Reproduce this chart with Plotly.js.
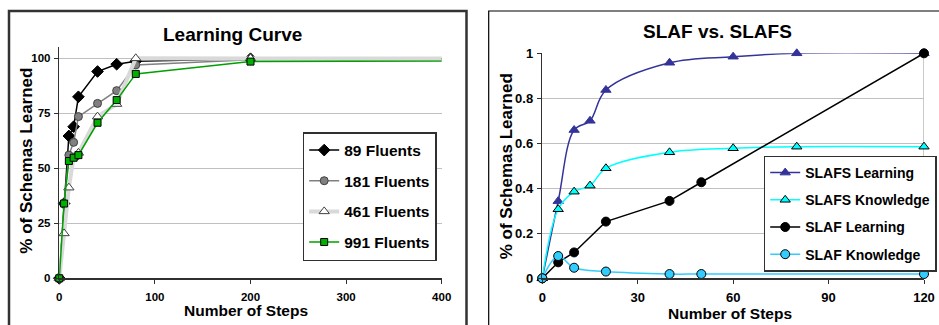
<!DOCTYPE html>
<html>
<head>
<meta charset="utf-8">
<script src="https://cdn.plot.ly/plotly-3.0.1.min.js"></script>
<style>html,body{margin:0;padding:0;background:#fff;}#chart{width:939px;height:325px;}</style>
</head>
<body>
<div id="chart"></div>
<script>
// ---------- Left chart: Learning Curve ----------
const steps = [0, 5, 10, 15, 20, 40, 60, 80, 200, 1000];
const fluents89  = [0, 34, 64.7, 68.9, 82.5, 94.0, 97.3, 98.7, 99.8, 99.6];
const fluents181 = [0, 34, 56.0, 61.8, 73.5, 79.5, 85.3, 97.0, 99.3, 99.6];
const fluents461 = [0, 20.4, 41.2, 55.0, 57.0, 73.5, 79.2, 100.0, 100.0, 99.6];
const fluents991 = [0, 34, 53.3, 54.8, 56.0, 70.7, 81.0, 92.9, 98.5, 99.6];
const leftNames = ['89 Fluents', '181 Fluents', '461 Fluents', '991 Fluents'];
const leftXTicks = [0, 100, 200, 300, 400];
const leftYTicks = [0, 25, 50, 75, 100];

// ---------- Right chart: SLAF vs. SLAFS ----------
const slafsSteps = [0, 5, 10, 15, 20, 40, 60, 80, 120];
const slafsLearning  = [0, 0.343, 0.659, 0.700, 0.837, 0.958, 0.985, 1.0, 1.0];
const slafsKnowledge = [0, 0.307, 0.385, 0.412, 0.489, 0.560, 0.578, 0.585, 0.585];
const slafSteps = [0, 5, 10, 20, 40, 50, 120];
const slafLearning  = [0, 0.071, 0.115, 0.252, 0.344, 0.427, 1.0];
const slafKnowledge = [0, 0.099, 0.047, 0.030, 0.019, 0.019, 0.019];
const rightNames = ['SLAFS Learning', 'SLAFS Knowledge', 'SLAF Learning', 'SLAF Knowledge'];
const rightXTicks = [0, 30, 60, 90, 120];
const rightYTicks = [0, 0.2, 0.4, 0.6, 0.8, 1];

const FONT = 'Liberation Sans, Arial, Helvetica, sans-serif';
const W = 939, H = 325;
const px = v => v / W;
const py = v => 1 - v / H;

const traces = [
  {x: steps, y: fluents89, name: leftNames[0], mode: 'lines+markers', xaxis: 'x', yaxis: 'y',
   line: {color: '#000000', width: 1.5},
   marker: {symbol: 'diamond', size: 9, color: '#000000', line: {color: '#000000', width: 1}},
   cliponaxis: false, legend: 'legend', legendgroup: 'a'},
  {x: steps, y: fluents181, name: leftNames[1], mode: 'lines+markers', xaxis: 'x', yaxis: 'y',
   line: {color: '#808080', width: 1.5},
   marker: {symbol: 'circle', size: 8, color: '#808080', line: {color: '#404040', width: 1}},
   cliponaxis: false, legend: 'legend', legendgroup: 'b'},
  {x: steps, y: fluents461, name: leftNames[2], mode: 'lines+markers', xaxis: 'x', yaxis: 'y',
   line: {color: '#d9d9d9', width: 4},
   marker: {symbol: 'triangle-up', size: 9, color: '#ffffff', line: {color: '#404040', width: 1}},
   cliponaxis: false, legend: 'legend', legendgroup: 'c'},
  {x: steps, y: fluents991, name: leftNames[3], mode: 'lines+markers', xaxis: 'x', yaxis: 'y',
   line: {color: '#00a000', width: 1.5},
   marker: {symbol: 'square', size: 7, color: '#00b000', line: {color: '#000000', width: 1}},
   cliponaxis: false, legend: 'legend', legendgroup: 'd'},

  {x: slafsSteps, y: slafsLearning, name: rightNames[0], mode: 'lines+markers', xaxis: 'x2', yaxis: 'y2',
   line: {color: '#333399', width: 1.5, shape: 'spline'},
   marker: {symbol: 'triangle-up', size: 9, color: '#333399', line: {color: '#333399', width: 1}},
   cliponaxis: false, legend: 'legend2', legendgroup: 'e'},
  {x: slafsSteps, y: slafsKnowledge, name: rightNames[1], mode: 'lines+markers', xaxis: 'x2', yaxis: 'y2',
   line: {color: '#00ffff', width: 1.5, shape: 'spline'},
   marker: {symbol: 'triangle-up', size: 9, color: '#00ffff', line: {color: '#000000', width: 1}},
   cliponaxis: false, legend: 'legend2', legendgroup: 'f'},
  {x: slafSteps, y: slafLearning, name: rightNames[2], mode: 'lines+markers', xaxis: 'x2', yaxis: 'y2',
   line: {color: '#000000', width: 1.5},
   marker: {symbol: 'circle', size: 9, color: '#000000', line: {color: '#000000', width: 1}},
   cliponaxis: false, legend: 'legend2', legendgroup: 'g'},
  {x: slafSteps, y: slafKnowledge, name: rightNames[3], mode: 'lines+markers', xaxis: 'x2', yaxis: 'y2',
   line: {color: '#33ccff', width: 1.5, shape: 'spline'},
   marker: {symbol: 'circle', size: 9, color: '#33ccff', line: {color: '#000000', width: 1}},
   cliponaxis: false, legend: 'legend2', legendgroup: 'h'}
];

const boldFont = (size) => ({family: FONT, size, color: '#000', weight: 'bold'});

function xAx(domain, range, ticks, anchor, fs) {
  return {domain, range, tickvals: ticks, anchor, showgrid: false, zeroline: false,
    showline: true, linecolor: '#303030', linewidth: 1.5, ticks: 'outside', ticklen: 4,
    tickcolor: '#303030', tickwidth: 1, tickfont: boldFont(fs), ticklabelstandoff: 3,
    automargin: false, fixedrange: true};
}
function yAx(domain, range, ticks, anchor, fs) {
  return {domain, range, tickvals: ticks, anchor, showgrid: true, gridcolor: '#c0c0c0', gridwidth: 1,
    zeroline: false, showline: true, linecolor: '#303030', linewidth: 1.5, ticks: 'outside', ticklen: 4,
    tickcolor: '#303030', tickwidth: 1, tickfont: boldFont(fs), ticklabelstandoff: 1,
    automargin: false, fixedrange: true};
}

function note(text, x, y, size, angle) {
  return {text, xref: 'paper', yref: 'paper', x: px(x), y: py(y), xanchor: 'center', yanchor: 'middle',
    showarrow: false, textangle: angle || 0, font: boldFont(size)};
}

const layout = {
  width: W, height: H,
  margin: {l: 0, r: 0, t: 0, b: 0},
  paper_bgcolor: '#ffffff', plot_bgcolor: '#ffffff',
  font: {family: FONT, color: '#000'},
  showlegend: true,
  xaxis: xAx([px(59.3), px(441.7)], [0, 400], leftXTicks, 'y', 11.5),
  yaxis: yAx([py(278.3), py(47.3)], [0, 105], leftYTicks, 'x', 11.5),
  xaxis2: xAx([px(542.3), px(924)], [0, 120], rightXTicks, 'y2', 13),
  yaxis2: yAx([py(278.3), py(53.3)], [0, 1], rightYTicks, 'x2', 13),
  legend: {x: px(302.7), y: py(132), xanchor: 'left', yanchor: 'top',
    bgcolor: '#ffffff', bordercolor: '#303030', borderwidth: 1.5,
    font: boldFont(15.5), traceorder: 'grouped', tracegroupgap: 7.5, itemwidth: 30},
  legend2: {x: px(763.7), y: py(155.5), xanchor: 'left', yanchor: 'top',
    bgcolor: '#ffffff', bordercolor: '#303030', borderwidth: 1.5,
    font: boldFont(14), traceorder: 'grouped', tracegroupgap: 6, itemwidth: 30},
  annotations: [
    note('Learning Curve', 232.3, 34.3, 19),
    note('SLAF vs. SLAFS', 717.7, 31.7, 19),
    note('Number of Steps', 245.5, 310, 15.5),
    note('Number of Steps', 730, 313, 15.5),
    note('% of Schemas Learned', 26.7, 161, 17, -90),
    note('% of Schemas Learned', 506.3, 166, 17, -90)
  ],
  shapes: [
    {type: 'rect', xref: 'paper', yref: 'paper', x0: px(9), x1: px(466.5), y0: py(11), y1: py(345),
     line: {color: '#333333', width: 2.5}, fillcolor: 'rgba(0,0,0,0)', layer: 'below'},
    {type: 'rect', xref: 'paper', yref: 'paper', x0: px(488.7), x1: px(960), y0: py(11), y1: py(345),
     line: {color: '#000000', width: 1.2}, fillcolor: 'rgba(0,0,0,0)', layer: 'below'},
    {type: 'line', xref: 'x2', yref: 'y2', x0: 120, x1: 120, y0: 0, y1: 1,
     line: {color: '#b8b8b8', width: 1.5}, layer: 'below'}
  ]
};

Plotly.newPlot('chart', traces, layout, {displayModeBar: false, staticPlot: true});
</script>
</body>
</html>
